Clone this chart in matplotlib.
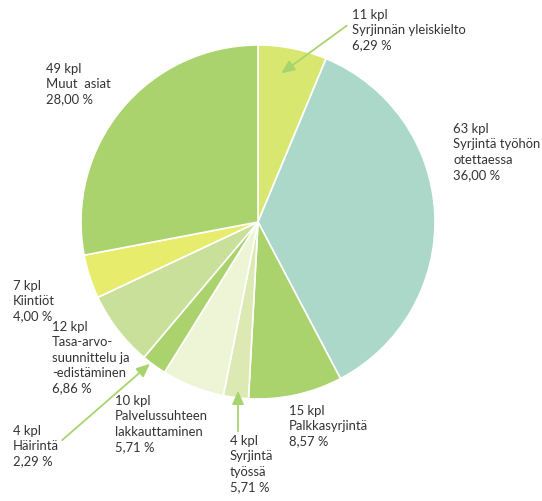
import matplotlib.pyplot as plt

# counts per category (clockwise from top)
counts = [11, 63, 15, 4, 10, 4, 12, 7, 49]
labels = [
    "11 kpl\nSyrjinnän yleiskielto\n6,29 %",
    "63 kpl\nSyrjintä työhön\notettaessa\n36,00 %",
    "15 kpl\nPalkkasyrjintä\n8,57 %",
    "4 kpl\nSyrjintä\ntyössä\n5,71 %",
    "10 kpl\nPalvelussuhteen\nlakkauttaminen\n5,71 %",
    "4 kpl\nHäirintä\n2,29 %",
    "12 kpl\nTasa-arvo-\nsuunnittelu ja\n-edistäminen\n6,86 %",
    "7 kpl\nKiintiöt\n4,00 %",
    "49 kpl\nMuut  asiat\n28,00 %",
]
colors = ['#d8e76f', '#acd8ca', '#aad26d', '#dde9b3', '#eef4d6',
          '#aad26d', '#c8e09a', '#e8ec6c', '#aad26d']

# label positions (pixel coords, top-left of text block)
label_pos = [(352, 9), (453, 123), (289, 405), (230, 435), (115, 395),
             (13, 425), (52, 321), (13, 280), (46, 63)]

W, H = 542, 501
fig = plt.figure(figsize=(W / 100, H / 100), dpi=100)
ax = fig.add_axes([0, 0, 1, 1])

ax.pie(counts, colors=colors, startangle=90, counterclock=False,
       center=(258, H - 222), radius=177, frame=True,
       wedgeprops=dict(edgecolor='white', linewidth=1.2))
ax.set_xlim(0, W)
ax.set_ylim(0, H)
ax.set_aspect('equal')
ax.axis('off')

for txt, (x, y) in zip(labels, label_pos):
    ax.text(x, H - y, txt, ha='left', va='top', fontsize=9.4,
            family='Lato', color='#333333', linespacing=1.33)

# arrows
arrow_kw = dict(arrowstyle='-|>,head_length=0.8,head_width=0.35',
                color='#a8d46e', lw=1.3)
ax.annotate('', xy=(279, H - 75), xytext=(349, H - 24), arrowprops=arrow_kw)
ax.annotate('', xy=(238, H - 388), xytext=(238, H - 434), arrowprops=arrow_kw)
ax.annotate('', xy=(152, H - 362), xytext=(60, H - 442), arrowprops=arrow_kw)

fig.savefig('out.png', dpi=100)
